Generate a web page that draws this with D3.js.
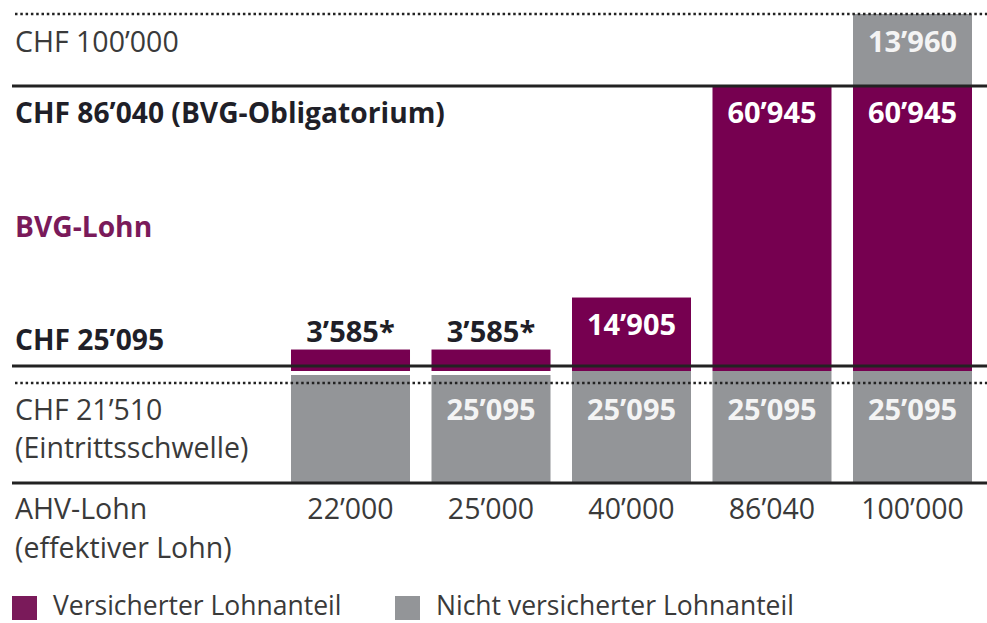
<!DOCTYPE html>
<html>

<head>
  <meta http-equiv="Content-Type" content="text/html;charset=utf-8" />
  <style type="text/css">
    body { margin: 0; background: #fff; }
    text { font-family: "Open Sans", sans-serif; }
    .reg { fill: #3a3a3a; font-size: 28.5px; }
    .bold { fill: #1f1f28; font-size: 28.2px; font-weight: 700; }
    .val { font-size: 29px; font-weight: 700; text-anchor: middle; }
    .leg { fill: #3a3a3a; font-size: 26.5px; }
  </style>
</head>

<body>
  <div id="svgContainer"></div>
  <script src="https://d3js.org/d3.v7.min.js"></script>

  <script type="text/javascript">
    var w = 987;
    var h = 623;

    // AHV-Lohn (x categories)
    const salaries = ["22\u2019000", "25\u2019000", "40\u2019000", "86\u2019040", "100\u2019000"];
    // Koordinationsabzug (grey, not insured), insured part (purple), part above BVG max (grey)
    const coordination = [25095, 25095, 25095, 25095, 25095];
    const coordinationLabels = ["", "25\u2019095", "25\u2019095", "25\u2019095", "25\u2019095"];
    const insured = [3585, 3585, 14905, 60945, 60945];
    const insuredLabels = ["3\u2019585*", "3\u2019585*", "14\u2019905", "60\u2019945", "60\u2019945"];
    const minimumInsured = [true, true, false, false, false];
    const aboveMax = [0, 0, 0, 0, 13960];
    const aboveMaxLabels = ["", "", "", "", "13\u2019960"];

    // y levels of the schema
    const thresholds = [0, 25095, 86040];   // solid lines
    const markers = [21510, 100000];        // dotted lines
    const bvgMax = 86040;

    const legendLabels = ["Versicherter Lohnanteil", "Nicht versicherter Lohnanteil"];

    const purple = "#760050";
    const grey = "#939598";

    var svg = d3.select("#svgContainer")
      .append("svg")
      .attr("width", w)
      .attr("height", h);

    var xScale = d3.scaleBand().domain(salaries).range([291, 972]).paddingInner(0.153);
    // schematic, piecewise scale
    var yScale = d3.scaleLinear()
      .domain([0, 21510, 25095, 86040, 100000])
      .range([482, 383, 366, 86, 14]);

    // grey lower part
    svg.selectAll(".coord")
      .data(salaries)
      .enter()
      .append("rect")
      .attr("class", "coord")
      .attr("x", d => xScale(d))
      .attr("width", xScale.bandwidth())
      .attr("y", (d, i) => yScale(coordination[i]) + (minimumInsured[i] ? 9 : 5))
      .attr("height", (d, i) => yScale(0) - yScale(coordination[i]) - (minimumInsured[i] ? 9 : 5))
      .attr("fill", grey);

    // purple insured part
    svg.selectAll(".ins")
      .data(salaries)
      .enter()
      .append("rect")
      .attr("class", "ins")
      .attr("x", d => xScale(d))
      .attr("width", xScale.bandwidth())
      .attr("y", (d, i) => yScale(coordination[i] + insured[i]))
      .attr("height", (d, i) => yScale(coordination[i]) + 5 - yScale(coordination[i] + insured[i]))
      .attr("fill", purple);

    // grey part above BVG max
    svg.selectAll(".above")
      .data(salaries.filter((d, i) => aboveMax[i] > 0))
      .enter()
      .append("rect")
      .attr("class", "above")
      .attr("x", d => xScale(d))
      .attr("width", xScale.bandwidth())
      .attr("y", d => yScale(bvgMax + aboveMax[salaries.indexOf(d)]))
      .attr("height", d => yScale(bvgMax) - yScale(bvgMax + aboveMax[salaries.indexOf(d)]))
      .attr("fill", grey);

    // lines
    svg.selectAll(".thr")
      .data(thresholds)
      .enter()
      .append("line")
      .attr("x1", 12).attr("x2", w)
      .attr("y1", d => yScale(d) + (d === 0 ? 1 : 0))
      .attr("y2", d => yScale(d) + (d === 0 ? 1 : 0))
      .attr("stroke", "#222")
      .attr("stroke-width", 3);

    svg.selectAll(".mark")
      .data(markers)
      .enter()
      .append("line")
      .attr("x1", 15).attr("x2", w)
      .attr("y1", d => yScale(d))
      .attr("y2", d => yScale(d))
      .attr("stroke", "#222")
      .attr("stroke-width", 2.5)
      .attr("stroke-dasharray", "2.5 2.8");

    // value labels
    svg.selectAll(".insLabel")
      .data(salaries)
      .enter()
      .append("text")
      .attr("class", "val")
      .attr("x", d => xScale(d) + xScale.bandwidth() / 2)
      .attr("y", (d, i) => {
        var top = yScale(coordination[i] + insured[i]);
        return minimumInsured[i] ? top - 8 : top + 37;
      })
      .attr("fill", (d, i) => minimumInsured[i] ? "#1f1f28" : "#fff")
      .text((d, i) => insuredLabels[i]);

    svg.selectAll(".coordLabel")
      .data(salaries)
      .enter()
      .append("text")
      .attr("class", "val")
      .attr("x", d => xScale(d) + xScale.bandwidth() / 2)
      .attr("y", (d, i) => yScale(coordination[i]) + 54)
      .attr("fill", "#f4f4f4")
      .text((d, i) => coordinationLabels[i]);

    svg.selectAll(".aboveLabel")
      .data(salaries)
      .enter()
      .append("text")
      .attr("class", "val")
      .attr("x", d => xScale(d) + xScale.bandwidth() / 2)
      .attr("y", yScale(100000) + 38)
      .attr("fill", "#f4f4f4")
      .text((d, i) => aboveMaxLabels[i]);

    // x labels (AHV-Lohn)
    svg.selectAll(".xl")
      .data(salaries)
      .enter()
      .append("text")
      .attr("class", "reg")
      .attr("text-anchor", "middle")
      .attr("x", d => xScale(d) + xScale.bandwidth() / 2)
      .attr("y", yScale(0) + 37)
      .text(d => d);

    // left labels
    function label(txt, y, cls, fill) {
      var t = svg.append("text").attr("class", cls).attr("x", 15).attr("y", y).text(txt);
      if (fill) t.style("fill", fill);
      return t;
    }
    label("CHF 100\u2019000", yScale(100000) + 38, "reg");
    label("CHF 86\u2019040 (BVG-Obligatorium)", yScale(86040) + 37, "bold");
    label("BVG-Lohn", (yScale(86040) + yScale(25095)) / 2 + 11, "bold", "#7a1a5a");
    label("CHF 25\u2019095", yScale(25095) - 16, "bold");
    label("CHF 21\u2019510", yScale(21510) + 37, "reg");
    label("(Eintrittsschwelle)", yScale(21510) + 75, "reg");
    label("AHV-Lohn", yScale(0) + 37, "reg");
    label("(effektiver Lohn)", yScale(0) + 76, "reg");

    // legend
    var legend = svg.selectAll(".legItem")
      .data(legendLabels)
      .enter()
      .append("g")
      .attr("transform", (d, i) => "translate(" + (12 + i * 383) + ",596)");
    legend.append("rect")
      .attr("width", 25).attr("height", 24)
      .attr("fill", (d, i) => i === 0 ? "#7a1a5a" : grey);
    legend.append("text")
      .attr("class", "leg")
      .attr("x", 41)
      .attr("y", 19)
      .text(d => d);
  </script>
</body>

</html>
